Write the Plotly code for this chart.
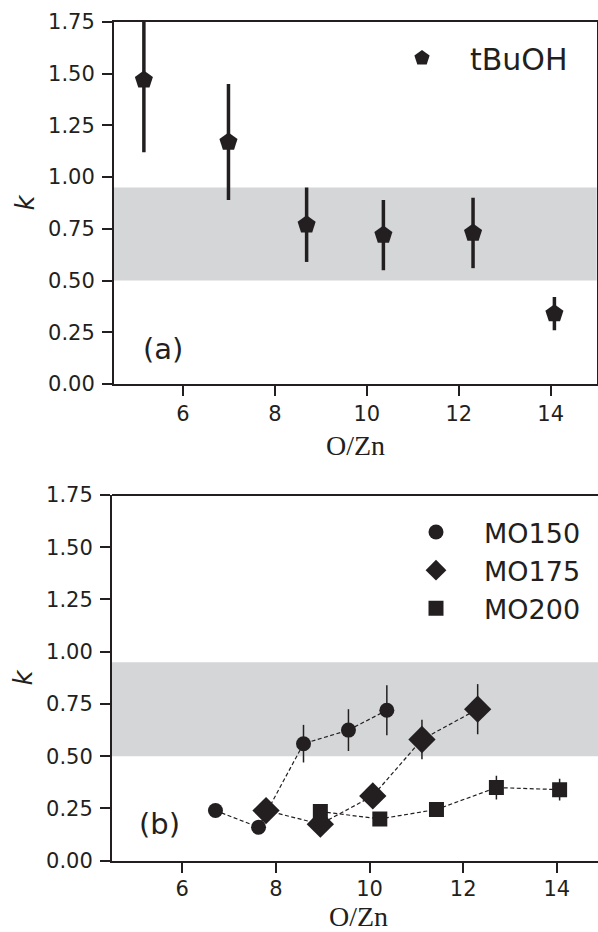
import plotly.graph_objects as go

W, H = 598, 932

# ---- data ----
tbuoh_x = [5.15, 6.99, 8.69, 10.36, 12.31, 14.08]
tbuoh_k = [1.47, 1.17, 0.77, 0.72, 0.73, 0.34]
tbuoh_err = [0.35, 0.28, 0.18, 0.17, 0.17, 0.08]

mo150_x = [6.71, 7.63, 8.59, 9.55, 10.37]
mo150_k = [0.24, 0.16, 0.56, 0.625, 0.72]
mo150_err = [0.03, 0.03, 0.09, 0.10, 0.12]

mo175_x = [7.79, 8.95, 10.07, 11.12, 12.31]
mo175_k = [0.24, 0.175, 0.31, 0.58, 0.725]
mo175_err = [0.03, 0.03, 0.03, 0.095, 0.12]

mo200_x = [8.95, 10.22, 11.43, 12.71, 14.06]
mo200_k = [0.235, 0.20, 0.245, 0.35, 0.34]
mo200_err = [0.03, 0.03, 0.03, 0.057, 0.052]

band = [0.5, 0.95]
x_ticks = [6, 8, 10, 12, 14]
y_ticks = [0, 0.25, 0.5, 0.75, 1.0, 1.25, 1.5, 1.75]

INK = "#231f20"
GRAY = "#d5d6d8"


def px(x):
    return x / W


def py(y):
    return 1 - y / H


fig = go.Figure()

# top panel
fig.add_trace(go.Scatter(
    x=tbuoh_x, y=tbuoh_k, mode="markers", name="tBuOH",
    marker=dict(symbol="pentagon", size=19, color=INK),
    error_y=dict(type="data", array=tbuoh_err, color=INK, thickness=3.5, width=0),
    xaxis="x", yaxis="y", legend="legend",
))

# bottom panel
series = [
    ("MO150", mo150_x, mo150_k, mo150_err, "circle", 15),
    ("MO175", mo175_x, mo175_k, mo175_err, "diamond", 21),
    ("MO200", mo200_x, mo200_k, mo200_err, "square", 15),
]
for name, xs, ks, es, sym, sz in series:
    fig.add_trace(go.Scatter(
        x=xs, y=ks, mode="lines", showlegend=False, hoverinfo="skip",
        line=dict(color=INK, width=1.2, dash="4px,2.5px"),
        xaxis="x2", yaxis="y2",
    ))
for name, xs, ks, es, sym, sz in series:
    fig.add_trace(go.Scatter(
        x=xs, y=ks, mode="markers", name=name,
        marker=dict(symbol=sym, size=sz, color=INK),
        error_y=dict(type="data", array=es, color=INK, thickness=1.5, width=0),
        xaxis="x2", yaxis="y2", legend="legend2",
    ))

tickfont = dict(family="DejaVu Sans", size=21, color=INK)
titlefont_x = dict(family="Liberation Serif", size=28, color=INK)
titlefont_y = dict(family="DejaVu Sans", size=26, color=INK)

common_x = dict(
    tickvals=x_ticks, ticks="outside", ticklen=10, tickwidth=2, tickcolor=INK,
    showline=True, linewidth=2, linecolor=INK, showgrid=False, zeroline=False,
    tickfont=tickfont, automargin=False,
)
common_y = dict(
    tickvals=y_ticks, tickformat=".2f", ticks="outside", ticklen=10, tickwidth=2,
    tickcolor=INK, showline=True, linewidth=2, linecolor=INK, showgrid=False,
    zeroline=False, tickfont=tickfont, ticklabelstandoff=3, automargin=False,
    range=[0, 1.75],
    title=dict(text="<i>k</i>", font=titlefont_y, standoff=6),
)

fig.update_layout(
    width=W, height=H,
    margin=dict(l=0, r=0, t=0, b=0),
    paper_bgcolor="white", plot_bgcolor="white",
    xaxis=dict(domain=[px(114), px(596.7)], anchor="y", range=[4.5, 15],
               mirror=True, ticklabelstandoff=0, **common_x),
    yaxis=dict(domain=[py(384), py(22)], anchor="x", mirror=True, **common_y),
    xaxis2=dict(domain=[px(112), 1.0], anchor="y2", range=[4.5, 14.88],
                mirror=False, ticklabelstandoff=-2, **common_x),
    yaxis2=dict(domain=[py(860.7), py(495)], anchor="x2", mirror=False, **common_y),
    legend=dict(x=px(374), y=py(32), xanchor="left", yanchor="top",
                font=dict(family="DejaVu Sans", size=30, color=INK),
                itemwidth=86, bgcolor="rgba(0,0,0,0)"),
    legend2=dict(x=px(388), y=py(508), xanchor="left", yanchor="top",
                 font=dict(family="DejaVu Sans", size=27, color=INK),
                 itemwidth=86, bgcolor="rgba(0,0,0,0)"),
    showlegend=True,
)

# shaded bands
for xa, ya in [("x", "y"), ("x2", "y2")]:
    fig.add_shape(type="rect", xref=f"{xa} domain", yref=ya,
                  x0=0, x1=1, y0=band[0], y1=band[1],
                  fillcolor=GRAY, line=dict(width=0), layer="below")

# top spine of the bottom panel (right edge is cropped in the reference)
fig.add_shape(type="line", xref="x2 domain", yref="y2 domain",
              x0=0, x1=1, y0=1, y1=1, line=dict(color=INK, width=2))

# x-axis titles
for cx, cy in [(355.8, 445.5), (358, 916)]:
    fig.add_annotation(text="O/Zn", x=px(cx), y=py(cy), xref="paper", yref="paper",
                       xanchor="center", yanchor="middle", showarrow=False,
                       borderpad=0, font=titlefont_x)

# panel labels
for txt, cx, cy in [("(a)", 162.5, 349), ("(b)", 159.5, 824)]:
    fig.add_annotation(text=txt, x=px(cx), y=py(cy), xref="paper", yref="paper",
                       xanchor="center", yanchor="middle", showarrow=False,
                       font=dict(family="DejaVu Sans", size=29, color=INK))

fig.write_html("out.html")
